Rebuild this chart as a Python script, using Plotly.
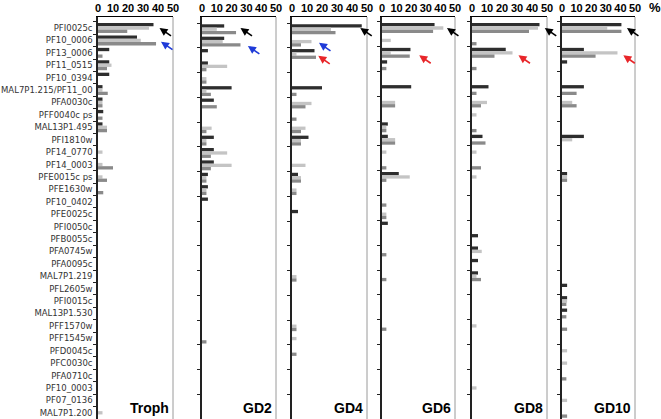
import plotly.graph_objects as go

genes = ["PFI0025c", "PF10_0006", "PF13_0006", "PF11_0515", "PF10_0394",
         "MAL7P1.215/PF11_00", "PFA0030c", "PFF0040c ps", "MAL13P1.495", "PFI1810w",
         "PF14_0770", "PF14_0003", "PFE0015c ps", "PFE1630w", "PF10_0402",
         "PFE0025c", "PFI0050c", "PFB0055c", "PFA0745w", "PFA0095c",
         "MAL7P1.219", "PFL2605w", "PFI0015c", "MAL13P1.530", "PFF1570w",
         "PFF1545w", "PFD0045c", "PFC0030c", "PFA0710c", "PF10_0003",
         "PF07_0136", "MAL7P1.200"]
stages = ["Troph", "GD2", "GD4", "GD6", "GD8", "GD10"]
x_ticks = [0, 10, 20, 30, 40, 50]

troph_dark = [37, 26, 7.5, 7.5, 7.5, 3, 3, 3.5, 3, 0, 0, 0, 0, 0, 0, 0, 0, 0, 0, 0, 0, 0, 0, 0, 0, 0, 0, 0, 0, 0, 0, 0]
troph_light = [34, 28.5, 0, 9, 0, 3, 3, 0, 6, 0, 3, 3, 3, 0, 0, 0, 0, 0, 0, 0, 0, 0, 0, 0, 0, 0, 0, 0, 0, 0, 0, 3]
troph_mid = [19.5, 38.7, 3, 6, 0, 6.5, 3, 3, 6, 0, 0, 10, 6, 3.5, 0, 0, 0, 0, 0, 0, 0, 0, 0, 0, 0, 0, 0, 0, 0, 0, 0, 0]

gd2_dark = [15, 15, 4, 4, 0, 20, 8, 0, 0, 8, 8, 8, 4, 4, 4, 0, 0, 0, 0, 0, 0, 0, 0, 0, 0, 0, 0, 0, 0, 0, 0, 0]
gd2_light = [10, 14, 0, 17, 3, 3, 0, 0, 6.5, 3, 17, 20, 3, 3, 0, 0, 0, 0, 0, 0, 0, 0, 0, 0, 0, 0, 0, 0, 0, 0, 0, 0]
gd2_mid = [23, 26, 0, 3, 3, 6, 10, 0, 3, 3, 6, 6, 3, 3, 0, 0, 0, 0, 0, 0, 0, 0, 0, 0, 0, 3, 0, 0, 0, 0, 0, 0]

gd4_dark = [46.5, 0, 15, 0, 0, 20, 0, 0, 0, 11, 0, 0, 4, 0, 0, 4, 0, 0, 0, 0, 0, 0, 0, 0, 0, 0, 0, 0, 0, 0, 0, 0]
gd4_light = [26, 13, 3, 0, 0, 0, 13, 0, 9, 6, 0, 9, 6, 3, 0, 0, 0, 0, 0, 0, 3, 0, 0, 0, 3, 3, 0, 0, 0, 0, 0, 0]
gd4_mid = [29, 6, 16, 0, 0, 3, 9, 3, 6, 6, 0, 0, 6, 3, 0, 0, 0, 0, 0, 0, 3, 0, 0, 0, 3, 0, 3, 0, 0, 0, 0, 0]

gd6_dark = [36, 0, 19.5, 3.5, 0, 20, 0, 0, 4, 4, 0, 0, 11.5, 0, 0, 0, 4, 0, 0, 0, 0, 0, 0, 0, 0, 0, 0, 0, 0, 0, 0, 0]
gd6_light = [42, 6, 6, 0, 0, 0, 9, 0, 3, 9, 3, 0, 19, 0, 0, 3, 0, 0, 0, 0, 0, 0, 0, 0, 0, 0, 0, 0, 0, 0, 0, 0]
gd6_mid = [35, 0, 19, 3, 0, 0, 9, 0, 3, 9, 0, 3, 3, 0, 3, 3, 0, 0, 3, 0, 3, 0, 0, 0, 3, 0, 0, 0, 0, 0, 0, 0]

gd8_dark = [45, 0, 22.5, 0, 0, 11, 0, 0, 0, 7, 0, 0, 0, 0, 0, 0, 0, 4, 4, 4, 4, 0, 0, 0, 0, 0, 0, 0, 0, 0, 0, 0]
gd8_light = [44, 0, 27, 0, 0, 0, 10, 3, 0, 0, 3, 0, 3, 0, 0, 0, 0, 0, 6.5, 0, 3, 0, 0, 0, 3, 0, 0, 0, 0, 3, 0, 0]
gd8_mid = [38, 3, 15, 3, 0, 3, 6, 0, 3, 9, 0, 6, 0, 0, 0, 0, 0, 0, 0, 0, 6, 0, 0, 0, 0, 0, 0, 0, 0, 0, 0, 0]

gd10_dark = [40.7, 0, 15, 3.5, 0, 15, 0, 0, 0, 15, 0, 0, 3.5, 0, 0, 0, 0, 0, 0, 0, 0, 3.5, 3.5, 3.5, 0, 0, 0, 0, 0, 0, 0, 0]
gd10_light = [31, 0, 38, 0, 0, 0, 7, 0, 0, 7, 0, 0, 3.5, 0, 0, 0, 0, 0, 0, 0, 0, 0, 3.5, 0, 0, 0, 3.5, 3.5, 0, 0, 3.5, 0]
gd10_mid = [40.7, 0, 23, 0, 0, 10, 10, 0, 0, 0, 0, 0, 3.5, 0, 0, 0, 0, 0, 0, 0, 0, 0, 3, 3, 3.5, 0, 0, 0, 3, 0, 0, 3.5]

panel_data = [
    (troph_dark, troph_light, troph_mid),
    (gd2_dark, gd2_light, gd2_mid),
    (gd4_dark, gd4_light, gd4_mid),
    (gd6_dark, gd6_light, gd6_mid),
    (gd8_dark, gd8_light, gd8_mid),
    (gd10_dark, gd10_light, gd10_mid),
]
series_colors = ["#2e2e2e", "#c4c4c4", "#8a8a8a"]

# arrows: (panel index, row position, x value of arrow head, colour)
BLACK, BLUE, RED = "#000000", "#1f3bd8", "#e8262a"
arrows = [
    (0, 0.0, 41, BLACK), (0, 1.1, 42, BLUE),
    (1, -0.1, 26, BLACK), (1, 1.35, 31, BLUE),
    (2, -0.1, 45.5, BLACK), (2, 1.1, 18, BLUE), (2, 2.15, 17.5, RED),
    (3, 0.0, 44.5, BLACK), (3, 2.2, 25.5, RED),
    (4, 0.0, 48.5, BLACK), (4, 2.2, 31, RED),
    (5, 0.0, 44.5, BLACK), (5, 2.2, 42, RED),
]

W, H = 661, 419
panel_px = [(98, 173), (202, 276), (292, 367), (382, 455), (472, 547), (562, 635)]
FONT = "Liberation Sans, Arial, sans-serif"
LABEL_FONT = "DejaVu Sans, sans-serif"

fig = go.Figure()
layout = dict(
    width=W, height=H,
    margin=dict(l=0, r=0, t=17, b=0, autoexpand=False),
    paper_bgcolor="white", plot_bgcolor="white",
    barmode="group", bargap=0.2, bargroupgap=0,
    showlegend=False,
    font=dict(family=FONT),
)
annotations = []
shapes = []

for i, stage in enumerate(stages):
    n = "" if i == 0 else str(i + 1)
    xa, ya = "x" + n, "y" + n
    for vals, col in zip(panel_data[i], series_colors):
        fig.add_trace(go.Bar(
            y=genes, x=vals, orientation="h", xaxis=xa, yaxis=ya,
            marker=dict(color=col, line=dict(width=0)), hoverinfo="x+y",
        ))
    l, r = panel_px[i]
    layout["xaxis" + n] = dict(
        domain=[l / W, r / W], range=[0, 50], side="top", anchor=ya,
        tickvals=x_ticks, ticks="", showgrid=False, zeroline=False,
        showline=True, linecolor="#000", linewidth=1.2,
        tickfont=dict(size=11, color="#000", family=FONT, weight="bold"),
        fixedrange=True, automargin=False,
    )
    layout["yaxis" + n] = dict(
        domain=[0, 1], anchor=xa, type="category",
        categoryorder="array", categoryarray=genes, autorange="reversed",
        showline=True, linecolor="#222", linewidth=1.5,
        ticks="outside", ticklen=3, tickcolor="#222", tickson="boundaries",
        ticklabelstandoff=2,
        showticklabels=(i == 0), showgrid=False, zeroline=False,
        tickfont=dict(size=8.5, color="#333", family=LABEL_FONT),
        fixedrange=True, automargin=False,
    )
    shapes.append(dict(type="line", xref=xa + " domain", yref=ya + " domain",
                       x0=1, x1=1, y0=0, y1=1,
                       line=dict(color="#9a9a9a", width=1)))
    annotations.append(dict(
        text=stage, xref=xa + " domain", yref=ya + " domain",
        x=0.97, y=0, xanchor="right", yanchor="bottom", yshift=1,
        showarrow=False,
        font=dict(size=14, color="#000", family=FONT, weight="bold"),
    ))

for p, row, xh, col in arrows:
    n = "" if p == 0 else str(p + 1)
    annotations.append(dict(
        text="", xref="x" + n, yref="y" + n, x=xh, y=row,
        ax=13, ay=9, showarrow=True, arrowhead=2, arrowsize=1,
        arrowwidth=1.6, arrowcolor=col,
    ))

annotations.append(dict(
    text="%", xref="paper", yref="paper", x=655 / W, y=1, yshift=10,
    xanchor="center", yanchor="middle", showarrow=False,
    font=dict(size=13, color="#000", family=FONT, weight="bold"),
))

layout["annotations"] = annotations
layout["shapes"] = shapes
fig.update_layout(**layout)
fig.write_html("out.html", config={"displayModeBar": False},
               post_script="document.body.style.margin='0';document.body.style.overflow='hidden';")
